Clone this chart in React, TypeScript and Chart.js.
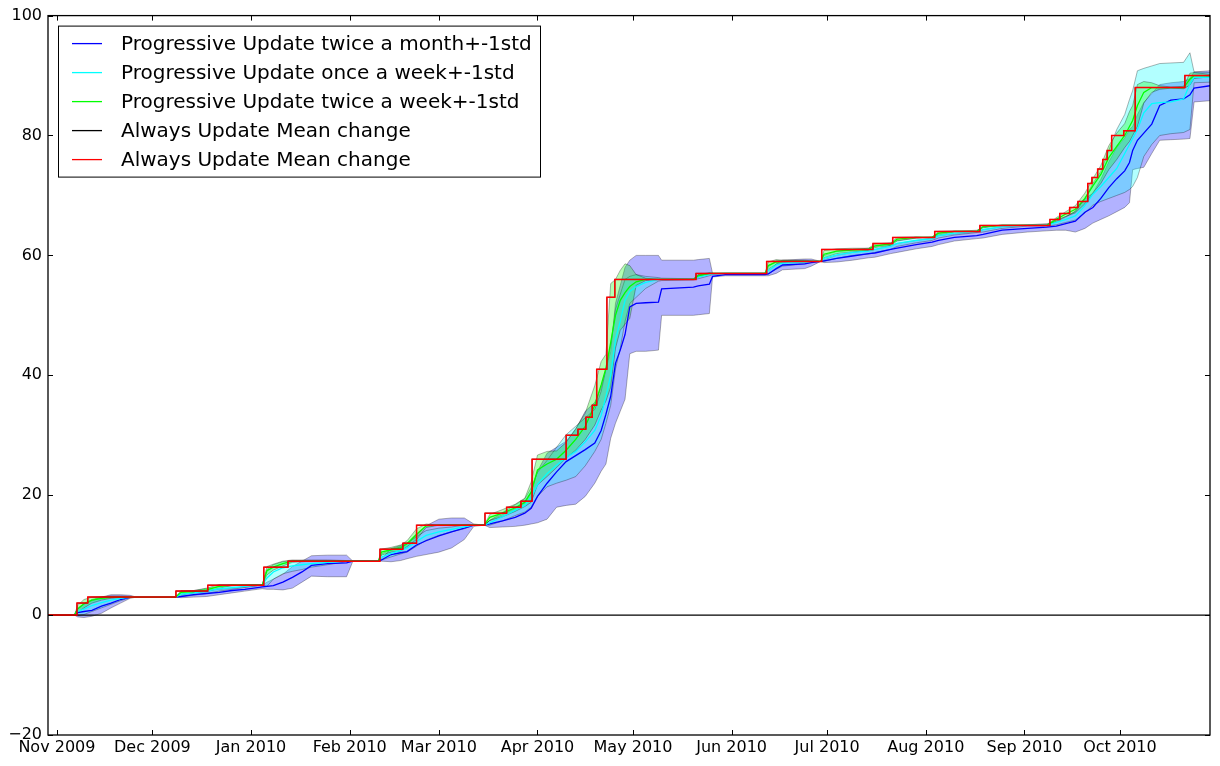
import React, { useEffect, useRef } from "react";
import { Chart, registerables } from "chart.js";

Chart.register(...registerables);

// x values are days counted from 1 Nov 2009
const days = [
  -2.8, 5.5, 6.5, 8.5, 11, 14, 17, 20, 23, 25,
  37.3, 39, 43, 47, 51, 55, 59, 63, 64.5, 66,
  68, 71, 74, 77, 80, 85, 91, 93, 101, 102,
  105, 108, 110, 113, 116, 120, 124, 128, 131, 134.3,
  136, 140, 144, 147, 149, 151, 154, 157, 160, 163,
  166, 169, 171, 172.5, 174, 175.5, 177, 178.5, 180, 182,
  185, 189, 190, 200, 201.5, 205, 206, 210, 222.5, 223.5,
  226, 228, 235, 237, 240, 241, 245, 250, 255, 257,
  262, 264, 270, 275, 277, 282, 289, 291, 297, 305,
  311, 314, 317, 320, 323, 325.5, 328, 330.5, 333, 335.5,
  337, 338, 339.5, 341.5, 344, 346.5, 350, 354, 356, 357.3,
  362.3,
];

const blueMean = [
  0, 0, 0.4, 0.6, 0.8, 1.5, 2.0, 2.6, 3.0, 3.0,
  3, 3.1, 3.4, 3.6, 3.8, 4.1, 4.3, 4.6, 4.7, 4.8,
  4.9, 5.5, 6.3, 7.2, 8.3, 8.6, 8.7, 9, 9, 9.2,
  10.1, 10.4, 10.6, 11.7, 12.4, 13.2, 13.9, 14.5, 15, 15,
  15.2, 15.7, 16.3, 17.0, 17.8, 19.8, 22, 23.9, 25.6, 26.6,
  27.6, 28.7, 30.8, 33.5, 36.5, 42, 44.2, 46.8, 51.4, 52,
  52.1, 52.2, 54.4, 54.7, 54.9, 55.2, 56.5, 56.8, 56.8, 56.9,
  57.8, 58.4, 58.6, 58.8, 59, 59.1, 59.5, 59.9, 60.3, 60.4,
  61, 61.2, 61.8, 62.2, 62.5, 63, 63.3, 63.5, 64.2, 64.5,
  64.7, 64.9, 65.3, 65.7, 67.2, 68, 69.5, 71.3, 72.8, 74.1,
  75.5, 77.5, 79.2, 80.4, 81.9, 85, 85.9, 86.1, 86.8, 87.9,
  88.3,
];
const blueLo = [
  0, 0, -0.3, -0.4, -0.2, 0.3, 1.2, 2.0, 2.8, 3.0,
  3, 2.9, 3.0, 3.1, 3.4, 3.7, 4.0, 4.3, 4.4, 4.3,
  4.3, 4.2, 4.5, 5.5, 6.5, 6.4, 6.4, 9, 9, 9.0,
  8.9, 9.1, 9.4, 9.8, 10.1, 10.5, 11.2, 12.6, 14.8, 15,
  14.6, 14.7, 14.8, 15.0, 15.2, 15.4, 16.0, 18.0, 18.3, 18.5,
  19.8, 22.0, 24.0, 25.2, 29.5, 32.0, 34.0, 36.0, 43.6, 44.0,
  44.0, 44.2, 50.0, 50.0, 50.1, 50.3, 56.4, 56.6, 56.6, 56.6,
  57.0, 57.6, 57.8, 58.2, 59, 58.8, 58.9, 59.2, 59.6, 59.7,
  60.3, 60.5, 61.1, 61.5, 61.8, 62.4, 62.8, 62.9, 63.5, 63.9,
  64.1, 64.2, 64.2, 63.9, 64.5, 65.4, 66.0, 66.6, 67.3, 68.0,
  68.8, 74.3, 74.5, 74.7, 77.0, 79.2, 79.3, 79.4, 79.5, 85.6,
  85.8,
];
const blueHi = [
  0, 0, 1.0, 1.8, 2.4, 3.0, 3.4, 3.4, 3.3, 3.0,
  3, 3.3, 3.8, 4.1, 4.3, 4.5, 4.7, 4.9, 5.0, 5.5,
  6.0, 6.8, 8.1, 9.0, 9.9, 10.0, 10.0, 9, 9, 9.4,
  11.1, 11.6, 11.9, 13.3, 14.9, 16.0, 16.2, 16.2, 15.2, 15,
  15.8, 16.8, 17.8, 19.0, 20.5, 24.0, 27.0, 28.0, 29.0, 31.0,
  34.0, 35.5, 38.0, 41.0, 44.0, 52.0, 55.0, 58.0, 59.2, 60.0,
  60.0, 60.0, 59.2, 59.2, 59.3, 59.5, 57.0, 57.0, 57.0, 57.2,
  58.6, 59.2, 59.4, 59.4, 59, 59.3, 60.0, 60.5, 60.9, 61.0,
  61.7, 62.0, 62.5, 62.9, 63.3, 63.6, 63.9, 64.3, 64.8, 65.1,
  65.3, 65.6, 66.4, 67.4, 69.4, 70.4, 72.7, 75.6, 78.0, 79.6,
  81.0, 81.5, 83.5, 85.5, 87.0, 88.5, 88.8, 89.0, 89.5, 90.6,
  90.8,
];

const cyanMean = [
  0, 0, 0.6, 1.0, 1.6, 2.1, 2.5, 2.8, 3.0, 3.0,
  3, 3.5, 3.7, 4.0, 4.4, 4.6, 4.8, 5.0, 5.0, 6.2,
  7.2, 7.9, 8.2, 8.4, 8.6, 8.8, 9.0, 9, 9, 9.7,
  10.3, 10.8, 11.2, 12.3, 13.3, 13.9, 14.3, 14.7, 15, 15,
  15.4, 16.4, 17.5, 18.3, 19.6, 21.8, 23.6, 25.0, 26.3, 27.3,
  28.9, 30.8, 33.3, 36.5, 40.0, 46.0, 49.0, 52.5, 54.0, 54.8,
  55.5, 56, 56, 56, 56.4, 56.8, 56.9, 57, 57, 57.5,
  58.4, 58.7, 58.9, 59, 59, 59.5, 60.1, 60.5, 60.7, 61,
  61.5, 62, 62.5, 62.8, 63.3, 63.7, 64, 64.3, 64.8, 65,
  65, 65.5, 66, 66.6, 68.3, 70.2, 71.5, 73, 74.5, 77,
  78.5, 79.5, 81, 83.8, 85.3, 85.5, 85.6, 86.1, 88.6, 89.7,
  89.7,
];
const cyanLo = [
  0, 0, 0.0, 0.1, 0.6, 1.2, 1.8, 2.4, 2.9, 3.0,
  3, 3.1, 3.3, 3.6, 4.0, 4.3, 4.6, 4.9, 5.0, 4.8,
  6.0, 6.9, 7.3, 7.6, 8.0, 8.4, 8.9, 9, 9, 9.2,
  9.7, 10.2, 10.5, 11.5, 12.5, 13.3, 13.9, 14.4, 15, 15,
  15.0, 15.7, 16.6, 17.2, 18.0, 19.8, 21.4, 22.0, 22.5, 23.1,
  24.9, 27.3, 29.3, 32.0, 35.0, 41.0, 44.5, 49.0, 52.0, 53.0,
  54.5, 55.7, 55.8, 55.9, 56.1, 56.6, 56.8, 57, 57, 56.9,
  57.7, 58.2, 58.6, 58.9, 59, 59.0, 59.5, 60.0, 60.2, 60.5,
  61.0, 61.5, 62.1, 62.5, 62.9, 63.4, 63.8, 63.9, 64.5, 64.9,
  64.9, 65.1, 65.5, 65.9, 67.1, 68.4, 69.0, 69.5, 70.0, 70.5,
  71.0, 71.5, 73.0, 76.5, 78.5, 80.0, 80.3, 80.5, 81.0, 88.8,
  88.9,
];
const cyanHi = [
  0, 0, 1.2, 1.9, 2.6, 3.0, 3.2, 3.2, 3.1, 3.0,
  3, 3.9, 4.1, 4.4, 4.8, 4.9, 5.0, 5.1, 5.0, 7.6,
  8.4, 8.9, 9.1, 9.2, 9.2, 9.2, 9.1, 9, 9, 10.2,
  10.9, 11.4, 11.9, 13.1, 14.1, 14.5, 14.7, 15.0, 15, 15,
  15.8, 17.1, 18.4, 19.4, 21.2, 23.8, 25.8, 28.0, 30.1, 31.5,
  32.9, 34.3, 37.3, 41.0, 45.0, 51.0, 53.5, 56.0, 56.5, 56.8,
  56.5, 56.3, 56.2, 56.1, 56.7, 57.0, 57.0, 57, 57, 58.1,
  59.1, 59.2, 59.2, 59.1, 59, 60.0, 60.7, 61.0, 61.2, 61.5,
  62.0, 62.5, 62.9, 63.1, 63.7, 64.0, 64.2, 64.7, 65.1, 65.1,
  65.1, 65.9, 66.5, 67.3, 69.5, 72.0, 74.0, 77.5, 81.0, 83.5,
  86.0, 87.5, 90.8, 91.2, 91.6, 92.0, 92.1, 92.2, 93.8, 90.6,
  90.5,
];

const greenMean = [
  0, 0, 1.0, 1.9, 2.5, 2.8, 2.95, 3, 3, 3,
  3, 3.8, 3.9, 4.2, 4.8, 5, 5, 5, 5, 7.4,
  8, 8.6, 9, 9, 9, 9, 9, 9, 9, 10.5,
  10.9, 11.2, 11.9, 13.5, 14.9, 15, 15, 15, 15, 15,
  16.3, 17, 17.9, 18.8, 20.5, 24.2, 25.2, 26, 27.5, 29.3,
  31.5, 35, 38.4, 41.2, 45.5, 50, 52.5, 53.8, 54.8, 55.6,
  56, 56, 56, 56, 56.6, 57, 57, 57, 57, 58.3,
  58.9, 59, 59, 59, 59, 60.2, 60.7, 60.9, 61, 61.6,
  61.9, 62.7, 63, 63, 63.7, 64, 64, 64.8, 65, 65,
  65, 66, 66.9, 67.7, 69.5, 71.6, 73.5, 76.3, 78.2, 80,
  81.5, 82.5, 85, 87.2, 88, 88, 88, 88, 89.4, 90,
  90,
];
const greenLo = [
  0, 0, 0.4, 1.2, 2.0, 2.5, 2.8, 2.9, 3, 3,
  3, 3.5, 3.7, 3.9, 4.5, 4.9, 5, 5, 5, 6.7,
  7.5, 8.2, 8.8, 8.9, 9, 9, 9, 9, 9, 10.0,
  10.5, 10.7, 11.4, 12.6, 14.6, 15, 15, 15, 15, 15,
  15.8, 16.4, 17.3, 18.1, 18.8, 21.7, 23.1, 24.6, 26.2, 27.5,
  29.3, 31.7, 34.2, 35.7, 38.0, 44.5, 47.5, 48.5, 49.5, 55.0,
  55.8, 56, 56, 56, 56.4, 56.9, 57, 57, 57, 57.7,
  58.5, 58.8, 58.9, 59, 59, 59.6, 60.3, 60.6, 60.8, 61.3,
  61.7, 62.4, 62.9, 63, 63.4, 63.9, 64, 64.6, 65, 65,
  65, 65.7, 66.5, 67.1, 68.6, 70.4, 72.0, 74.3, 76.0, 78.0,
  79.0, 80.0, 81.5, 85.4, 87.2, 87.7, 87.9, 87.8, 88.4, 89.5,
  89.8,
];
const greenHi = [
  0, 0, 1.6, 2.6, 3.0, 3.1, 3.1, 3.1, 3, 3,
  3, 4.1, 4.1, 4.5, 5.1, 5.1, 5, 5, 5, 8.1,
  8.5, 9.0, 9.2, 9.1, 9, 9, 9, 9, 9, 11.0,
  11.3, 11.7, 12.4, 14.4, 15.2, 15, 15, 15, 15, 15,
  16.8, 17.6, 18.5, 19.5, 22.2, 26.7, 27.3, 27.4, 28.8, 31.1,
  33.7, 38.3, 42.3, 43.5, 55.3, 56.0, 57.5, 58.6, 58.3, 56.8,
  56.2, 56, 56, 56, 56.8, 57.1, 57, 57, 57, 58.9,
  59.3, 59.2, 59.1, 59, 59, 60.8, 61.1, 61.2, 61.2, 61.9,
  62.1, 63.0, 63.1, 63, 64.0, 64.1, 64, 65.0, 65, 65,
  65, 66.3, 67.3, 68.3, 70.4, 72.8, 75.0, 78.3, 80.4, 82.0,
  84.0, 85.0, 88.5, 89.0, 88.8, 88.3, 88.1, 88.2, 90.4, 90.5,
  90.2,
];

// "Always Update" series: day of each jump and the value reached
const alwaysDays = [
  -2.8, 6.3, 9.7, 37.4, 47.4, 65, 72.6, 101.5, 108.7, 113,
  134.5, 141.3, 145.8, 149.3, 160, 163.7, 166.2, 168.2, 169.6, 172.8,
  175.3, 200.8, 223, 240.3, 256.4, 262.6, 275.8, 290, 312, 315.1,
  318.2, 320.8, 323.9, 325.2, 327, 328.6, 330, 331.4, 335.2, 338.8,
  354.4, 362.3,
];
const alwaysVals = [
  0, 2, 3, 4, 5, 8, 9, 11, 12, 15,
  17, 18, 19, 26, 30, 31, 33, 35, 41, 53,
  56, 57, 59, 61, 62, 63, 64, 65, 66, 67,
  68, 69, 72, 73, 74.4, 76, 77.5, 80, 80.8, 88,
  90, 90,
];

const monthTickDays = [0, 30, 61, 92, 120, 151, 181, 212, 242, 273, 304, 334];
const monthLabels = [
  "Nov 2009", "Dec 2009", "Jan 2010", "Feb 2010", "Mar 2010", "Apr 2010",
  "May 2010", "Jun 2010", "Jul 2010", "Aug 2010", "Sep 2010", "Oct 2010",
];
const yTicks = [-20, 0, 20, 40, 60, 80, 100];
const X_MIN = -2.8;
const X_MAX = 362.3;

const seriesLabels = [
  "Progressive Update twice a month+-1std",
  "Progressive Update once a week+-1std",
  "Progressive Update twice a week+-1std",
  "Always Update Mean change",
  "Always Update Mean change",
];
const seriesColors = ["#0000ff", "#00ffff", "#00ff00", "#000000", "#ff0000"];

const FONT = "'DejaVu Sans', 'Liberation Sans', sans-serif";

const framePlugin = {
  id: "mplFrame",
  afterDraw(chart: any) {
    const { ctx, chartArea: a, scales } = chart;
    ctx.save();
    ctx.strokeStyle = "#000";
    ctx.lineWidth = 1;
    ctx.beginPath();
    for (const d of monthTickDays) {
      const x = Math.round(scales.x.getPixelForValue(d)) + 0.5;
      ctx.moveTo(x, a.bottom);
      ctx.lineTo(x, a.bottom - 5);
      ctx.moveTo(x, a.top);
      ctx.lineTo(x, a.top + 5);
    }
    for (const v of yTicks) {
      const y = Math.round(scales.y.getPixelForValue(v)) + 0.5;
      ctx.moveTo(a.left, y);
      ctx.lineTo(a.left + 5, y);
      ctx.moveTo(a.right, y);
      ctx.lineTo(a.right - 5, y);
    }
    ctx.stroke();
    ctx.lineWidth = 1.3;
    ctx.strokeRect(a.left, a.top, a.right - a.left, a.bottom - a.top);

    // legend (upper left, boxed)
    const lx = a.left + 10;
    const ly = a.top + 10;
    const lw = 482;
    const lh = 151;
    ctx.fillStyle = "#fff";
    ctx.fillRect(lx, ly, lw, lh);
    ctx.lineWidth = 1;
    ctx.strokeStyle = "#000";
    ctx.strokeRect(lx + 0.5, ly + 0.5, lw, lh);
    ctx.font = `20px ${FONT}`;
    ctx.textBaseline = "middle";
    seriesLabels.forEach((lab, i) => {
      const y = ly + 18 + i * 29;
      ctx.strokeStyle = seriesColors[i];
      ctx.lineWidth = 1.3;
      ctx.beginPath();
      ctx.moveTo(lx + 14, y);
      ctx.lineTo(lx + 44, y);
      ctx.stroke();
      ctx.fillStyle = "#000";
      ctx.fillText(lab, lx + 63, y + 1);
    });
    ctx.restore();
  },
};

export default function App() {
  const ref = useRef<HTMLCanvasElement>(null);

  useEffect(() => {
    const canvas = ref.current;
    if (!canvas) return;
    const pts = (xs: number[], ys: number[]) => xs.map((x, i) => ({ x, y: ys[i] }));
    const edge = "rgba(0,0,0,0.3)";
    const band = (lo: number[], hi: number[], fillColor: string, order: number) => [
      { label: "_lo", data: pts(days, lo), borderColor: edge, borderWidth: 1, pointRadius: 0, fill: false, order },
      { label: "_hi", data: pts(days, hi), borderColor: edge, borderWidth: 1, pointRadius: 0, fill: "-1", backgroundColor: fillColor, order },
    ];
    const line = (label: string, ys: number[], color: string, order: number) => ({
      label, data: pts(days, ys), borderColor: color, borderWidth: 1.3, pointRadius: 0, fill: false, order,
    });

    const datasets: any[] = [
      ...band(blueLo, blueHi, "rgba(0,0,255,0.3)", 10),
      ...band(cyanLo, cyanHi, "rgba(0,255,255,0.3)", 9),
      ...band(greenLo, greenHi, "rgba(0,255,0,0.3)", 8),
      line(seriesLabels[0], blueMean, seriesColors[0], 5),
      line(seriesLabels[1], cyanMean, seriesColors[1], 4),
      line(seriesLabels[2], greenMean, seriesColors[2], 3),
      {
        label: "_zero", data: [{ x: X_MIN, y: 0 }, { x: X_MAX, y: 0 }],
        borderColor: "#000", borderWidth: 1.3, pointRadius: 0, fill: false, order: 2.5,
      },
      {
        label: seriesLabels[3], data: pts(alwaysDays, alwaysVals), borderColor: seriesColors[3],
        borderWidth: 0.8, pointRadius: 0, fill: false, stepped: "before", order: 2,
      },
      {
        label: seriesLabels[4], data: pts(alwaysDays, alwaysVals), borderColor: seriesColors[4],
        borderWidth: 1.5, pointRadius: 0, fill: false, stepped: "before", order: 1,
      },
    ];

    Chart.defaults.font.family = FONT;
    Chart.defaults.color = "#000";

    const chart = new Chart(canvas, {
      type: "line",
      data: { datasets },
      options: {
        animation: false,
        responsive: false,
        devicePixelRatio: 1,
        layout: { padding: { left: 0, right: 10, top: 15, bottom: 0 } },
        plugins: { legend: { display: false }, tooltip: { enabled: false } },
        elements: { line: { tension: 0 } },
        scales: {
          x: {
            type: "linear",
            min: X_MIN,
            max: X_MAX,
            grid: { display: false, drawTicks: false },
            border: { display: false },
            afterBuildTicks: (s: any) => {
              s.ticks = monthTickDays.map((v) => ({ value: v }));
            },
            afterFit: (s: any) => {
              s.height = 31;
            },
            ticks: {
              autoSkip: false,
              maxRotation: 0,
              minRotation: 0,
              padding: 3,
              font: { size: 16 },
              color: "#000",
              callback: (v: any) => {
                const i = monthTickDays.indexOf(Number(v));
                return i >= 0 ? monthLabels[i] : "";
              },
            },
          },
          y: {
            type: "linear",
            min: -20,
            max: 100,
            grid: { display: false, drawTicks: false },
            border: { display: false },
            afterBuildTicks: (s: any) => {
              s.ticks = yTicks.map((v) => ({ value: v }));
            },
            afterFit: (s: any) => {
              s.width = 48;
            },
            ticks: {
              padding: 6,
              font: { size: 16 },
              color: "#000",
              callback: (v: any) => (Number(v) < 0 ? "\u2212" + Math.abs(Number(v)) : String(v)),
            },
          },
        },
      },
      plugins: [framePlugin],
    } as any);

    return () => chart.destroy();
  }, []);

  return (
    <div style={{ position: "absolute", left: 0, top: 0, width: 1220, height: 766, background: "#fff" }}>
      <canvas ref={ref} width={1220} height={766} style={{ display: "block" }} />
    </div>
  );
}
